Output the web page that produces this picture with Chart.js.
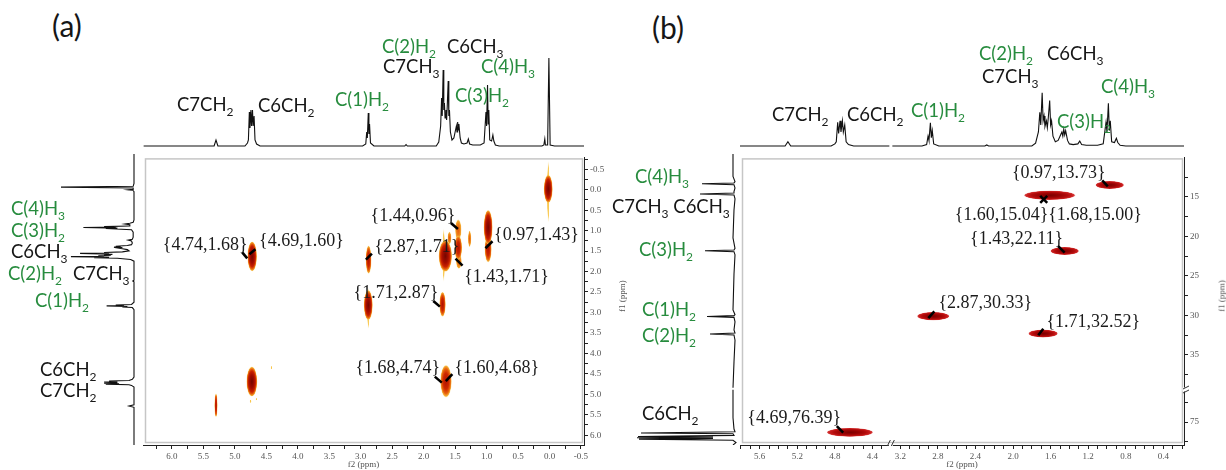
<!DOCTYPE html>
<html>
<head>
<meta charset="utf-8">
<title>COSY and HSQC</title>
<script src="https://cdn.jsdelivr.net/npm/chart.js@4.4.1/dist/chart.umd.min.js"></script>
<style>
  html, body { margin:0; padding:0; background:#fff; }
  #root { position:relative; width:1226px; height:470px; overflow:hidden; background:#fff; }
  #root canvas { position:absolute; }
  .lbl { position:absolute; font-family:Lato, 'Open Sans', sans-serif; font-size:18.5px; line-height:18.5px; white-space:nowrap; color:#161616; }
  .lbl.g { color:#278c3e; }
  .lbl sub { font-size:12px; line-height:0; vertical-align:-4.5px; }
  .pan { position:absolute; font-family:Lato, 'Open Sans', sans-serif; font-size:30px; line-height:30px; color:#161616; }
  .f1 { position:absolute; font-family:'Liberation Serif', serif; font-size:9px; line-height:9px; color:#555; white-space:nowrap; transform:translate(-50%,-50%) rotate(-90deg); }
</style>
</head>
<body>
<div id="root"></div>
<script>
// ================= DATA =================
// 1H trace: chemical shift (ppm) and intensity (trace height, arbitrary units)
const hPpm = [6.45, 5.33, 5.30, 5.27, 4.84, 4.80, 4.785, 4.77, 4.76, 4.745, 4.735, 4.72, 4.71, 4.695, 4.68, 4.655, 4.60,
  2.97, 2.92, 2.905, 2.895, 2.88, 2.87, 2.86, 2.845, 2.79, 2.30, 2.28, 2.26,
  1.80, 1.76, 1.73, 1.715, 1.705, 1.69, 1.68, 1.67, 1.66, 1.645, 1.635, 1.625, 1.61, 1.60, 1.59, 1.575, 1.55,
  1.52, 1.50, 1.48, 1.47, 1.46, 1.45, 1.44, 1.42, 1.40, 1.36, 1.31, 1.29, 1.27, 1.22, 1.10,
  1.04, 1.01, 1.00, 0.985, 0.975, 0.965, 0.95, 0.92, 0.90, 0.885, 0.86, 0.80,
  0.12, 0.09, 0.075, 0.065, 0.03, 0.01, -0.01, -0.08, -0.80];
const hInt = [0, 0, 6, 0, 0, 3, 6, 34, 18, 36, 20, 36, 20, 30, 6, 2, 0,
  0, 2, 14, 8, 33, 12, 22, 3, 0, 0, 1.5, 0,
  0, 4, 20, 48, 30, 76, 36, 43, 28, 36, 26, 40, 65, 30, 36, 14, 6,
  8, 14, 20, 14, 24, 16, 22, 8, 3, 2, 3, 7, 2, 1, 1,
  3, 34, 20, 61, 22, 36, 6, 5, 11, 5, 1, 0,
  0, 1, 7, 1, 1, 88, 1, 0, 0];

// 13C trace
const cPpm = [9.9, 12.8, 13.45, 13.62, 13.73, 13.84, 14.25, 14.7, 14.88, 15.0, 15.12, 15.6, 17.0, 20.5, 21.8, 22.0, 22.11, 22.22, 22.6, 25.0,
  29.5, 30.1, 30.22, 30.33, 30.44, 31.0, 32.0, 32.4, 32.52, 32.64, 33.3, 36.0, 39.3,
  70.9, 74.5, 75.9, 76.25, 76.39, 76.5, 76.7, 76.84, 76.92, 77.0, 77.08, 77.16, 77.3, 77.6, 77.95];
const cInt = [0, 0, -2, -1, 31, -1, -2, -1, -1, 33, -1, -2, -1, 0, -2, -1, 28, -1, -2, -1,
  0, -2, -1, 26, -1, -2, -1, -2, 23, -1, -2, -1, 0,
  0, 0, -1, -2, 92, 0, -1, 95, 20, 96, 20, 94, 0, -3, -6];

// (a) COSY cross peaks: f2, f1 (ppm), half widths (ppm), contour level 0..3
const cosyF2   = [0.02, 0.02, 0.975, 0.975, 1.45, 1.45, 1.44, 1.655, 1.68, 1.59, 1.27, 2.88, 2.88, 2.875, 1.70, 4.73, 4.725, 1.645, 5.30, 4.42, 4.75, 4.66];
const cosyF1   = [0.05, -0.02, 0.92, 1.45, 0.98, 1.42, 1.75, 1.62, 1.60, 1.18, 1.20, 2.90, 2.82, 1.71, 2.80, 4.69, 1.63, 4.68, 5.27, 4.35, 5.17, 5.12];
const cosyHwF2 = [0.02, 0.07, 0.07, 0.055, 0.05, 0.06, 0.045, 0.105, 0.02, 0.03, 0.025, 0.02, 0.07, 0.045, 0.05, 0.085, 0.075, 0.09, 0.025, 0.012, 0.015, 0.012];
const cosyHwF1 = [0.75, 0.34, 0.42, 0.32, 0.25, 0.30, 0.18, 0.38, 0.65, 0.15, 0.20, 0.50, 0.36, 0.34, 0.30, 0.36, 0.36, 0.39, 0.29, 0.04, 0.04, 0.03];
const cosyLevel = [0, 3, 3, 2, 1, 2, 1, 3, 0, 1, 1, 0, 3, 2, 2, 3, 3, 2, 2, 0, 0, 0];

// (b) HSQC cross peaks
const hsqcF2   = [0.97, 1.61, 1.45, 2.85, 1.68, 4.64];
const hsqcF1   = [13.5, 14.8, 21.85, 30.1, 32.3, 76.3];
const hsqcHwF2 = [0.15, 0.27, 0.15, 0.17, 0.155, 0.245];
const hsqcHwF1 = [0.5, 0.58, 0.5, 0.52, 0.5, 0.55];

// annotated coordinates {f2,f1}
const annAF2 = [4.74, 4.69, 1.44, 2.87, 0.97, 1.43, 1.71, 1.68, 1.60];
const annAF1 = [1.68, 1.60, 0.96, 1.71, 1.43, 1.71, 2.87, 4.74, 4.68];
const annBF2 = [0.97, 1.60, 1.68, 1.43, 2.87, 1.71, 4.69];
const annBF1 = [13.73, 15.04, 15.00, 22.11, 30.33, 32.52, 76.39];

// tick values / labels
const xMajA = [6.0, 5.5, 5.0, 4.5, 4.0, 3.5, 3.0, 2.5, 2.0, 1.5, 1.0, 0.5, 0.0, -0.5];
const xMinA = [6.25, 5.75, 5.25, 4.75, 4.25, 3.75, 3.25, 2.75, 2.25, 1.75, 1.25, 0.75, 0.25, -0.25];
const yMajA = [-0.5, 0.0, 0.5, 1.0, 1.5, 2.0, 2.5, 3.0, 3.5, 4.0, 4.5, 5.0, 5.5, 6.0];
const yMinA = [-0.75, -0.25, 0.25, 0.75, 1.25, 1.75, 2.25, 2.75, 3.25, 3.75, 4.25, 4.75, 5.25, 5.75];
const xMajB = [5.6, 5.2, 4.8, 4.4, 3.2, 2.8, 2.4, 2.0, 1.6, 1.2, 0.8, 0.4];
const xMinB = [5.8, 5.7, 5.5, 5.4, 5.3, 5.1, 5.0, 4.9, 4.7, 4.6, 4.5, 4.3, 3.1, 3.0, 2.9, 2.7, 2.6, 2.5, 2.3, 2.2, 2.1, 1.9, 1.8, 1.7, 1.5, 1.4, 1.3, 1.1, 1.0, 0.9, 0.7, 0.6, 0.5, 0.3, 0.2];
const yMajB = [15, 20, 25, 30, 35, 75];
const yMinB = [12.5, 17.5, 22.5, 27.5, 32.5, 37.5, 72.5, 77.5];

// ================= LAYOUT / STYLE =================
// assignment labels: [html, left px, baseline px, green]
const assignLabels = [
  ['C7CH<sub>2</sub>', 177, 111, 0], ['C6CH<sub>2</sub>', 258, 112, 0], ['C(1)H<sub>2</sub>', 335, 106, 1],
  ['C(2)H<sub>2</sub>', 382, 53, 1], ['C6CH<sub>3</sub>', 447, 53, 0], ['C7CH<sub>3</sub>', 383, 73, 0],
  ['C(4)H<sub>3</sub>', 481, 73, 1], ['C(3)H<sub>2</sub>', 455, 102, 1],
  ['C(4)H<sub>3</sub>', 11, 215, 1], ['C(3)H<sub>2</sub>', 11, 237, 1], ['C6CH<sub>3</sub>', 11, 258, 0],
  ['C(2)H<sub>2</sub>', 8, 280, 1], ['C7CH<sub>3</sub>', 73, 280, 0], ['C(1)H<sub>2</sub>', 35, 307, 1],
  ['C6CH<sub>2</sub>', 40, 376, 0], ['C7CH<sub>2</sub>', 40, 397, 0],
  ['C7CH<sub>2</sub>', 772, 121, 0], ['C6CH<sub>2</sub>', 847, 121, 0], ['C(1)H<sub>2</sub>', 911, 117, 1],
  ['C(2)H<sub>2</sub>', 979, 60, 1], ['C6CH<sub>3</sub>', 1047, 60, 0], ['C7CH<sub>3</sub>', 982, 83, 0],
  ['C(4)H<sub>3</sub>', 1101, 93, 1], ['C(3)H<sub>2</sub>', 1057, 128, 1],
  ['C(4)H<sub>3</sub>', 635, 183, 1], ['C7CH<sub>3</sub> C6CH<sub>3</sub>', 612, 213, 0], ['C(3)H<sub>2</sub>', 639, 256, 1],
  ['C(1)H<sub>2</sub>', 642, 316, 1], ['C(2)H<sub>2</sub>', 642, 342, 1], ['C6CH<sub>2</sub>', 642, 420, 0]
];
// annotation layout: [label dx, label dy, arrow x1, y1, x2, y2] relative to the target pixel
const annALayout = [[-46,-13,-9,-6,-4,0],[47,-14,1,-6,-5,-1],[-46,-13,-8,-6,-1,0],[48,-12.5,3,-6,-3,0],[48,-13,4,-7,-3,0],
  [47,17.5,-4,-1,3,6],[-46,-13.5,-8.6,-6.2,-2,-0.5],[-46,-15,-9,-7,-2,-1],[48,-13.4,3.5,-7,-3,0]];
const annBLayout = [[-51,-14,-7.6,-6.5,-2,-0.5],[-49,18,-10.4,5.7,-3.4,-1.3],[52,18,4.1,6,-2.9,-1],[-50,-14,-8.4,-7,-2,-0.5],
  [54,-14.6,3,-6.6,-3,0],[53,-13,3,-6.5,-2,0],[-51,-15,-8.4,-7,-2,-0.5]];

const PAL_A = [
  [[0,'#f9c445'],[0.8,'#f9cc5a'],[1,'rgba(252,214,110,0.1)']],
  [[0,'#e45a0c'],[0.55,'#ee7e18'],[0.85,'#f5aa32'],[1,'rgba(250,200,80,0.45)']],
  [[0,'#b01200'],[0.5,'#cd2800'],[0.78,'#e8640e'],[0.93,'#f5ac34'],[1,'rgba(248,200,80,0.5)']],
  [[0,'#740600'],[0.45,'#a40d00'],[0.7,'#c92200'],[0.85,'#e5600e'],[0.95,'#f4a830'],[1,'rgba(248,200,80,0.55)']]
];
const PAL_B = [[[0,'#7a0000'],[0.4,'#980303'],[0.7,'#b40c0c'],[0.88,'#c81e1e'],[0.96,'#d53838'],[1,'rgba(222,80,80,0.55)']]];

// axis break definitions for panel (b)
const BRK = {
  bx: { segs: [[5.81, 4.22], [3.285, 0.18]], gap: 3 },
  by: { segs: [[10.0, 39.25], [71.0, 77.9]], gap: 2 }
};

// ================= SCALE WITH BREAKS =================
class BrokenScale extends Chart.LinearScale {
  _brkLayout() {
    const b = BRK[this.options.brk];
    const horiz = this.isHorizontal();
    const start = horiz ? this.left : this.top;
    const len = horiz ? this.width : this.height;
    const spans = b.segs.map(s => Math.abs(s[1] - s[0]));
    const tot = spans.reduce((a, c) => a + c, 0);
    const k = (len - b.gap * (b.segs.length - 1)) / tot;
    let p = start; const out = [];
    b.segs.forEach((s, i) => { const l = spans[i] * k; out.push({ v0: s[0], v1: s[1], p0: p, p1: p + l }); p += l + b.gap; });
    return out;
  }
  getPixelForValue(v) {
    if (v === null || v === undefined || isNaN(v)) return NaN;
    const L = this._brkLayout();
    const d = Math.sign(L[0].v1 - L[0].v0);
    const u = v * d;
    for (let i = 0; i < L.length; i++) {
      const s = L[i];
      if (u <= s.v1 * d || i === L.length - 1) {
        if (u >= s.v0 * d || i === 0) return s.p0 + (v - s.v0) / (s.v1 - s.v0) * (s.p1 - s.p0);
        const pr = L[i - 1];
        const t = (u - pr.v1 * d) / (s.v0 * d - pr.v1 * d);
        return pr.p1 + t * (s.p0 - pr.p1);
      }
    }
    return NaN;
  }
  getValueForPixel(p) {
    const L = this._brkLayout();
    for (let i = 0; i < L.length; i++) {
      const s = L[i];
      if (p <= s.p1 || i === L.length - 1) return s.v0 + (p - s.p0) / (s.p1 - s.p0) * (s.v1 - s.v0);
    }
  }
}
BrokenScale.id = 'broken';
BrokenScale.defaults = {};
Chart.register(BrokenScale);

// ================= HELPERS =================
const root = document.getElementById('root');
function mkCanvas(left, top, w, h) {
  const c = document.createElement('canvas');
  c.width = w; c.height = h;
  c.style.left = left + 'px'; c.style.top = top + 'px';
  c.style.width = w + 'px'; c.style.height = h + 'px';
  root.appendChild(c);
  return c;
}
const base = {
  responsive: false, animation: false, devicePixelRatio: 1, events: [],
  plugins: { legend: { display: false }, tooltip: { enabled: false } }
};
function lineDs(data) {
  return { data, showLine: true, borderColor: '#111', borderWidth: 1.1, pointRadius: 0, tension: 0, clip: 0 };
}
function spectrum(canvas, datasets, xs, ys) {
  return new Chart(canvas, {
    type: 'scatter',
    data: { datasets: datasets.map(lineDs) },
    options: Object.assign({}, base, { layout: { padding: 0 },
      scales: { x: Object.assign({ display: false }, xs), y: Object.assign({ display: false }, ys) } })
  });
}
const tickFont = { family: "'Liberation Serif', serif", size: 9 };
function axisCfg(extra, major, minor, fmt) {
  const all = major.concat(minor).sort((a, b) => a - b);
  return Object.assign({
    afterBuildTicks: s => { s.ticks = all.map(v => ({ value: v })); },
    ticks: { autoSkip: false, maxRotation: 0, padding: 2, font: tickFont, color: '#555',
      callback: v => (major.includes(v) ? fmt(v) : '') },
    grid: { drawOnChartArea: false, drawTicks: true, tickLength: 4, tickColor: '#222', tickWidth: 1 },
    border: { display: true, color: '#222', width: 1 }
  }, extra);
}
const framePlugin = { id: 'frame', beforeDatasetsDraw(chart) {
  const a = chart.chartArea, ctx = chart.ctx;
  ctx.save(); ctx.strokeStyle = '#c6c6c6'; ctx.lineWidth = 1.5;
  ctx.strokeRect(a.left + 2.5, a.top + 1.5, a.width - 4, a.height - 4);
  ctx.restore();
}};
function blobPlugin(pal) {
  return { id: 'blobs', afterDatasetsDraw(chart) {
    const ctx = chart.ctx, a = chart.chartArea, xs = chart.scales.x, ys = chart.scales.y;
    const meta = chart.getDatasetMeta(0), raw = chart.data.datasets[0].data;
    ctx.save(); ctx.beginPath(); ctx.rect(a.left, a.top, a.width, a.height); ctx.clip();
    const order = raw.map((d, i) => i).sort((i, j) => raw[i].lvl - raw[j].lvl);
    order.forEach(i => {
      const d = raw[i], el = meta.data[i];
      const rx = Math.max(0.8, Math.abs(xs.getPixelForValue(d.x + d.w) - el.x));
      const ry = Math.max(0.8, Math.abs(ys.getPixelForValue(d.y + d.h) - el.y));
      ctx.save(); ctx.translate(el.x, el.y); ctx.scale(rx, ry);
      const g = ctx.createRadialGradient(0, 0, 0, 0, 0, 1);
      pal[d.lvl].forEach(s => g.addColorStop(s[0], s[1]));
      ctx.fillStyle = g; ctx.beginPath(); ctx.arc(0, 0, 1, 0, Math.PI * 2); ctx.fill();
      ctx.restore();
    });
    ctx.restore();
  }};
}
function annPlugin(layout) {
  return { id: 'ann', afterDatasetsDraw(chart) {
    const ctx = chart.ctx, meta = chart.getDatasetMeta(1), raw = chart.data.datasets[1].data;
    ctx.save();
    ctx.font = "18px 'Liberation Serif', serif"; ctx.fillStyle = '#1b1b1b';
    ctx.textAlign = 'center'; ctx.textBaseline = 'middle';
    ctx.strokeStyle = '#000'; ctx.lineWidth = 2.6; ctx.lineCap = 'butt';
    meta.data.forEach((el, i) => {
      const L = layout[i];
      ctx.fillText(raw[i].label, el.x + L[0], el.y + L[1]);
      ctx.beginPath(); ctx.moveTo(el.x + L[2], el.y + L[3]); ctx.lineTo(el.x + L[4], el.y + L[5]); ctx.stroke();
    });
    ctx.restore();
  }};
}
const breakPlugin = { id: 'brk', afterDraw(chart) {
  const ctx = chart.ctx, xs = chart.scales.x, ys = chart.scales.y;
  const LX = xs._brkLayout(), LY = ys._brkLayout();
  const gx = (LX[0].p1 + LX[1].p0) / 2, gy = (LY[0].p1 + LY[1].p0) / 2;
  ctx.save();
  ctx.fillStyle = '#fff';
  ctx.fillRect(gx - 2, xs.top - 1.5, 4, 3);
  ctx.fillRect(ys.left - 1.5, gy - 2, 3, 4);
  ctx.strokeStyle = '#333'; ctx.lineWidth = 1;
  [-2, 2].forEach(o => { ctx.beginPath(); ctx.moveTo(gx + o - 1.5, xs.top + 1); ctx.lineTo(gx + o + 1.5, xs.top - 5); ctx.stroke(); });
  [-2, 2].forEach(o => { ctx.beginPath(); ctx.moveTo(ys.left - 1, gy + o + 1.5); ctx.lineTo(ys.left + 5, gy + o - 1.5); ctx.stroke(); });
  ctx.restore();
}};
const fmt1 = v => v.toFixed(1);
const fmt0 = v => String(v);
const coordLabel = (a, b) => '{' + a.toFixed(2) + ',' + b.toFixed(2) + '}';

// ================= BUILD TABLES FROM THE ARRAYS =================
const hTop = hPpm.map((p, i) => ({ x: p, y: hInt[i] }));
const hLeft = hPpm.map((p, i) => ({ x: hInt[i], y: p }));
const cLeft = cPpm.map((p, i) => ({ x: cInt[i], y: p }));
const cosyPts = cosyF2.map((v, i) => ({ x: v, y: cosyF1[i], w: cosyHwF2[i], h: cosyHwF1[i], lvl: cosyLevel[i] }));
const hsqcPts = hsqcF2.map((v, i) => ({ x: v, y: hsqcF1[i], w: hsqcHwF2[i], h: hsqcHwF1[i], lvl: 0 }));
const annAPts = annAF2.map((v, i) => ({ x: v, y: annAF1[i], label: coordLabel(v, annAF1[i]) }));
const annBPts = annBF2.map((v, i) => ({ x: v, y: annBF1[i], label: coordLabel(v, annBF1[i]) }));
function segment(pts, key, a, b) {
  const lo = Math.min(a, b), hi = Math.max(a, b);
  const inner = pts.filter(p => p[key] >= lo && p[key] <= hi);
  const other = key === 'x' ? 'y' : 'x';
  const mk = v => { const o = {}; o[key] = v; o[other] = 0; return o; };
  return [mk(a)].concat(inner, [mk(b)]);
}

// ================= PANEL (a) =================
const xA = { type: 'linear', min: -0.548, max: 6.46, reverse: true };
const yA = { type: 'linear', min: -0.79, max: 6.24, reverse: true };

spectrum(mkCanvas(143, 40, 441, 110), [hTop], xA, { type: 'linear', min: -4, max: 106 });
spectrum(mkCanvas(40, 154, 100, 291), [hLeft], { type: 'linear', min: -7.23, max: 113.27, reverse: true }, yA);

new Chart(mkCanvas(138, 150, 472, 320), {
  type: 'scatter',
  data: { datasets: [ { data: cosyPts, pointRadius: 0 }, { data: annAPts, pointRadius: 0 } ] },
  options: Object.assign({}, base, {
    layout: { padding: { left: 5, top: 4, right: 0, bottom: 0 } },
    scales: {
      x: axisCfg(Object.assign({ position: 'bottom', afterFit: s => { s.height = 25; },
        title: { display: true, text: 'f2 (ppm)', font: tickFont, color: '#555', padding: { top: 0, bottom: 0 } } }, xA), xMajA, xMinA, fmt1),
      y: axisCfg(Object.assign({ position: 'right', afterFit: s => { s.width = 26; } }, yA), yMajA, yMinA, fmt1)
    }
  }),
  plugins: [framePlugin, blobPlugin(PAL_A), annPlugin(annALayout)]
});

// ================= PANEL (b) =================
const xB = { type: 'broken', brk: 'bx', min: 0.18, max: 5.81 };
const yB = { type: 'broken', brk: 'by', min: 10, max: 77.9 };

spectrum(mkCanvas(740, 40, 444, 110),
  [segment(hTop, 'x', 5.81, 4.22), segment(hTop, 'x', 3.285, 0.18)], xB, { type: 'linear', min: -5.7, max: 151.4 });
spectrum(mkCanvas(620, 154, 120, 291),
  [segment(cLeft, 'y', 10.0, 39.25), segment(cLeft, 'y', 71.0, 77.9)], { type: 'linear', min: -7, max: 113, reverse: true }, yB);

new Chart(mkCanvas(735, 150, 491, 320), {
  type: 'scatter',
  data: { datasets: [ { data: hsqcPts, pointRadius: 0 }, { data: annBPts, pointRadius: 0 } ] },
  options: Object.assign({}, base, {
    layout: { padding: { left: 5, top: 4, right: 0, bottom: 0 } },
    scales: {
      x: axisCfg(Object.assign({ position: 'bottom', afterFit: s => { s.height = 25; },
        title: { display: true, text: 'f2 (ppm)', font: tickFont, color: '#555', padding: { top: 0, bottom: 0 } } }, xB), xMajB, xMinB, fmt1),
      y: axisCfg(Object.assign({ position: 'right', afterFit: s => { s.width = 42; } }, yB), yMajB, yMinB, fmt0)
    }
  }),
  plugins: [framePlugin, blobPlugin(PAL_B), annPlugin(annBLayout), breakPlugin]
});

// ================= TEXT =================
function addDiv(cls, html, left, top) {
  const d = document.createElement('div');
  d.className = cls; d.innerHTML = html;
  d.style.left = left + 'px'; d.style.top = top + 'px';
  root.appendChild(d); return d;
}
assignLabels.forEach(L => addDiv('lbl' + (L[3] ? ' g' : ''), L[0], L[1], L[2] - 16.4));
addDiv('pan', '(a)', 52, 10);
addDiv('pan', '(b)', 652, 12);
addDiv('f1', 'f1 (ppm)', 622, 296);
addDiv('f1', 'f1 (ppm)', 1222, 296);
</script>
</body>
</html>
